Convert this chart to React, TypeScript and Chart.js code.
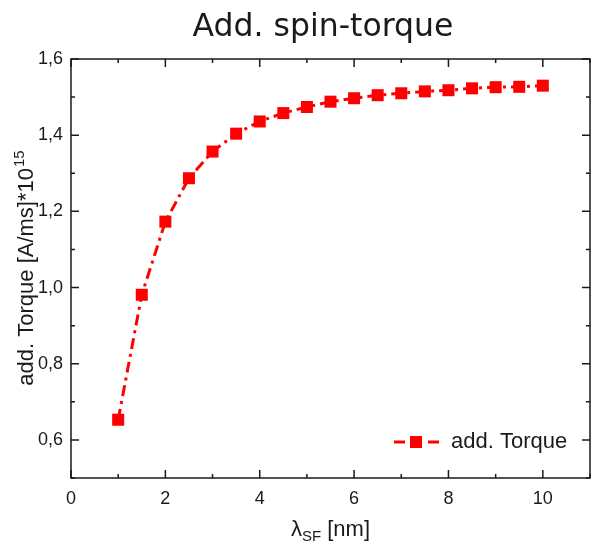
import React, { useEffect, useRef } from 'react';
import { Chart, registerables } from 'chart.js';

Chart.register(...registerables);

const chartTitle = 'Add. spin-torque';
const seriesName = 'add. Torque';
const lambdaSF = [1, 1.5, 2, 2.5, 3, 3.5, 4, 4.5, 5, 5.5, 6, 6.5, 7, 7.5, 8, 8.5, 9, 9.5, 10];
const addTorque = [0.653, 0.981, 1.173, 1.287, 1.357, 1.404, 1.436, 1.458, 1.474, 1.488, 1.497, 1.505, 1.510, 1.515, 1.518, 1.523, 1.526, 1.527, 1.530];
const xMajorTicks = [0, 2, 4, 6, 8, 10];
const xMinorTicks = [1, 3, 5, 7, 9, 11];
const yMajorTicks = [0.6, 0.8, 1.0, 1.2, 1.4, 1.6];
const yMinorTicks = [0.5, 0.7, 0.9, 1.1, 1.3, 1.5];

const SANS = '"Liberation Sans", Arial, sans-serif';
const RED = '#ff0000';

const framePlugin = {
  id: 'framePlugin',
  afterDraw(chart: any) {
    const { ctx, chartArea } = chart;
    const { left, right, top, bottom } = chartArea;
    const xs = chart.scales.x;
    const ys = chart.scales.y;
    ctx.save();
    ctx.strokeStyle = '#1a1a1a';
    ctx.lineWidth = 1.5;
    ctx.strokeRect(left, top, right - left, bottom - top);
    const major = 8;
    const minor = 4;
    ctx.beginPath();
    const xt = (v: number, len: number) => {
      const px = xs.getPixelForValue(v);
      if (px < left - 0.5 || px > right + 0.5) return;
      ctx.moveTo(px, bottom);
      ctx.lineTo(px, bottom - len);
      ctx.moveTo(px, top);
      ctx.lineTo(px, top + len);
    };
    const yt = (v: number, len: number) => {
      const py = ys.getPixelForValue(v);
      if (py < top - 0.5 || py > bottom + 0.5) return;
      ctx.moveTo(left, py);
      ctx.lineTo(left + len, py);
      ctx.moveTo(right, py);
      ctx.lineTo(right - len, py);
    };
    xMajorTicks.forEach((v) => xt(v, major));
    xMinorTicks.forEach((v) => xt(v, minor));
    yMajorTicks.forEach((v) => yt(v, major));
    yMinorTicks.forEach((v) => yt(v, minor));
    ctx.stroke();

    // Title
    ctx.fillStyle = '#1a1a1a';
    ctx.font = '31.5px "DejaVu Sans", sans-serif';
    ctx.textAlign = 'center';
    ctx.textBaseline = 'alphabetic';
    ctx.fillText(chartTitle, 323, 36);

    // Y axis title (rotated)
    ctx.save();
    ctx.translate(33, (top + bottom) / 2);
    ctx.rotate(-Math.PI / 2);
    ctx.textAlign = 'left';
    const mainY = 'add. Torque [A/ms]*10';
    const supY = '15';
    ctx.font = `22px ${SANS}`;
    const w1 = ctx.measureText(mainY).width;
    ctx.font = `15px ${SANS}`;
    const w2 = ctx.measureText(supY).width;
    const startY = -(w1 + w2) / 2;
    ctx.font = `22px ${SANS}`;
    ctx.fillText(mainY, startY, 0);
    ctx.font = `15px ${SANS}`;
    ctx.fillText(supY, startY + w1 + 1, -9);
    ctx.restore();

    // X axis title
    ctx.textAlign = 'left';
    ctx.font = `22px ${SANS}`;
    const lam = '\u03bb';
    const wl = ctx.measureText(lam).width;
    const rest = ' [nm]';
    const wr = ctx.measureText(rest).width;
    ctx.font = `15px ${SANS}`;
    const sub = 'SF';
    const ws = ctx.measureText(sub).width;
    const total = wl + ws + wr;
    let x0 = (left + right) / 2 - total / 2;
    const base = 536;
    ctx.font = `22px ${SANS}`;
    ctx.fillText(lam, x0, base);
    x0 += wl;
    ctx.font = `15px ${SANS}`;
    ctx.fillText(sub, x0, base + 5);
    x0 += ws;
    ctx.font = `22px ${SANS}`;
    ctx.fillText(rest, x0, base);

    // Legend
    const ly = bottom - 36;
    const lx = right - 196;
    ctx.strokeStyle = RED;
    ctx.lineWidth = 3;
    ctx.beginPath();
    ctx.moveTo(lx, ly);
    ctx.lineTo(lx + 11, ly);
    ctx.moveTo(lx + 34, ly);
    ctx.lineTo(lx + 45, ly);
    ctx.stroke();
    ctx.fillStyle = RED;
    ctx.fillRect(lx + 20 - 6 + 2, ly - 6, 12, 12);
    ctx.fillStyle = '#1a1a1a';
    ctx.font = `22px ${SANS}`;
    ctx.textBaseline = 'middle';
    ctx.fillText(seriesName, lx + 57, ly);
    ctx.restore();
  },
};

export default function App() {
  const canvasRef = useRef<HTMLCanvasElement | null>(null);

  useEffect(() => {
    document.body.style.margin = '0';
    const canvas = canvasRef.current;
    if (!canvas) return;
    const chart = new Chart(canvas, {
      type: 'line',
      data: {
        datasets: [
          {
            label: seriesName,
            data: lambdaSF.map((x, i) => ({ x, y: addTorque[i] })),
            borderColor: RED,
            backgroundColor: RED,
            borderWidth: 3,
            borderDash: [11, 5, 3, 5],
            pointStyle: 'rect',
            pointRadius: 8.5,
            pointBorderWidth: 0,
            pointBackgroundColor: RED,
            tension: 0,
            fill: false,
          },
        ],
      },
      options: {
        responsive: false,
        animation: false,
        layout: { autoPadding: false, padding: { top: 59, right: 1, left: 0, bottom: 0 } },
        plugins: {
          legend: { display: false },
          title: { display: false },
          tooltip: { enabled: false },
        },
        scales: {
          x: {
            type: 'linear',
            min: 0,
            max: 11,
            grid: { display: false, drawTicks: false, tickLength: 0 },
            border: { display: false },
            afterBuildTicks: (scale: any) => {
              scale.ticks = xMajorTicks.map((v) => ({ value: v }));
            },
            afterFit: (scale: any) => {
              scale.height = 64;
              scale.paddingLeft = 0;
              scale.paddingRight = 0;
            },
            ticks: {
              padding: 10,
              color: '#1a1a1a',
              font: { family: SANS, size: 18 },
              maxRotation: 0,
              callback: (v: any) => String(v),
            },
          },
          y: {
            type: 'linear',
            min: 0.5,
            max: 1.6,
            grid: { display: false, drawTicks: false, tickLength: 0 },
            border: { display: false },
            afterBuildTicks: (scale: any) => {
              scale.ticks = yMajorTicks.map((v) => ({ value: v }));
            },
            afterFit: (scale: any) => {
              scale.width = 71;
              scale.paddingTop = 0;
              scale.paddingBottom = 0;
            },
            ticks: {
              padding: 8,
              color: '#1a1a1a',
              font: { family: SANS, size: 18 },
              callback: (v: any) => Number(v).toFixed(1).replace('.', ','),
            },
          },
        },
      },
      plugins: [framePlugin],
    });
    return () => chart.destroy();
  }, []);

  return (
    <div style={{ position: 'absolute', left: 0, top: 0, width: 591, height: 542 }}>
      <canvas ref={canvasRef} width={591} height={542} style={{ width: 591, height: 542 }} />
    </div>
  );
}
